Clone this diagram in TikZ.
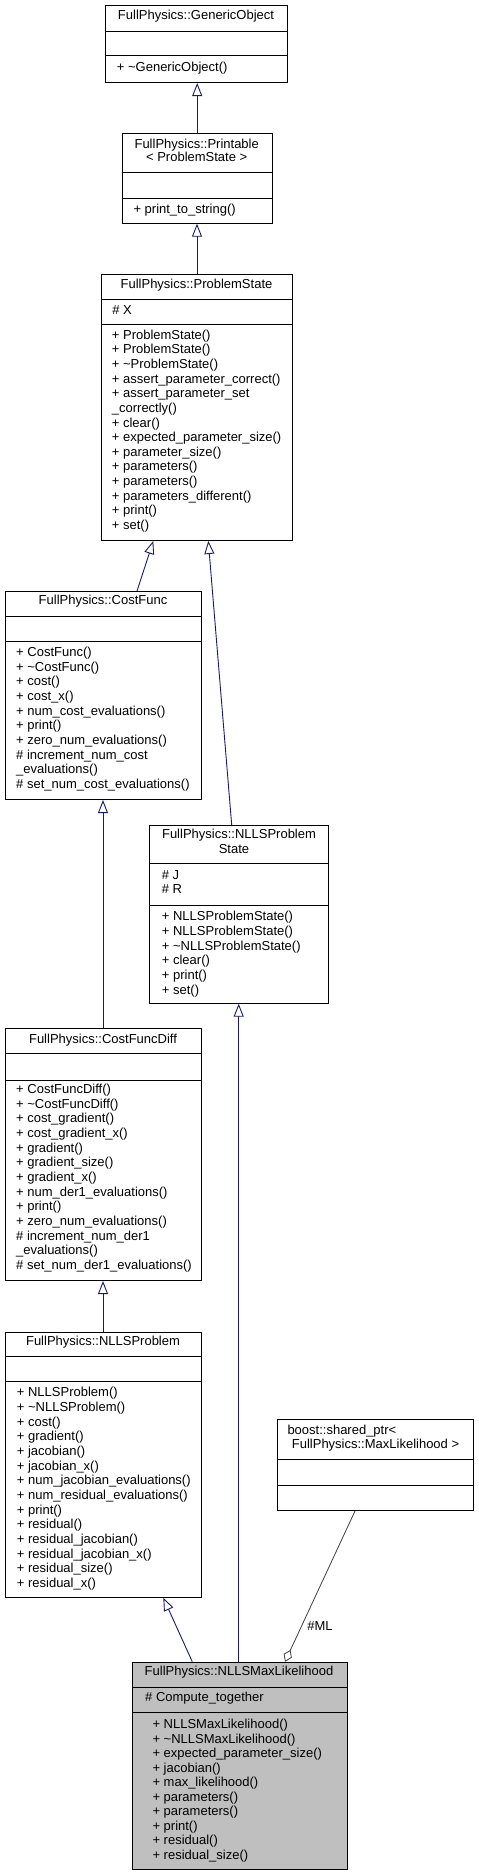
\documentclass[tikz,border=0pt]{standalone}
\usepackage{fontspec}
\setmainfont{Liberation Sans}
\usetikzlibrary{arrows.meta,calc}
\definecolor{edgeblue}{HTML}{191970}
\definecolor{agggray}{HTML}{404040}
\definecolor{boxgray}{HTML}{BFBFBF}
\tikzset{
  umlbox/.style={draw=black, line width=1pt, fill=white, inner sep=0pt, anchor=north west},
  sep/.style={draw=black, line width=1pt},
  member/.style={anchor=mid west, inner sep=0pt, font=\fontsize{13}{14.6}\selectfont},
  title/.style={anchor=mid, inner sep=0pt, font=\fontsize{13}{14.6}\selectfont},
  inh/.style={draw=edgeblue, line width=0.9pt, -{Triangle[open, length=13pt, width=10pt]}},
  agg/.style={draw=agggray, line width=0.8pt, -{Diamond[open, length=13pt, width=9pt]}},
  lbl/.style={anchor=mid, inner sep=0pt, font=\fontsize{13}{14.6}\selectfont}
}
\newcommand\umlmembers[5]{%
  \foreach \t [count=\i] in {#5} {\node[member] (#1-\i) at ({#2},{#3+(\i-1)*#4}) {\t};}}
\newcommand\umlseps[3]{% node, offset1, offset2
  \draw[sep] ($(#1.north west)+(0,#2)$) -- ($(#1.north east)+(0,#2)$);
  \draw[sep] ($(#1.north west)+(0,#3)$) -- ($(#1.north east)+(0,#3)$);}
\begin{document}
\begin{tikzpicture}[x=1pt,y=-1pt]
\useasboundingbox (0,0) rectangle (479,1876);
\fill[white] (0,0) rectangle (479,1876);

% GenericObject
\node[umlbox, minimum width=182pt, minimum height=77pt] (go) at (105,5) {};
\umlseps{go}{27}{51}
\node[title] (go-t) at (196,17.3) {FullPhysics::GenericObject};
\node[member] (go-m) at (116.7,69.3) {+ \textasciitilde GenericObject()};

% Printable
\node[umlbox, minimum width=150pt, minimum height=90pt] (pr) at (121.7,132.7) {};
\umlseps{pr}{40}{65.6}
\node[title] (pr-t1) at (196.7,145.7) {FullPhysics::Printable};
\node[title] (pr-t2) at (196.7,159) {< ProblemState >};
\node[member] (pr-m) at (133.3,210.7) {+ print\_to\_string()};

% ProblemState
\node[umlbox, minimum width=191pt, minimum height=266pt] (ps) at (101,274) {};
\umlseps{ps}{25.3}{50.3}
\node[title] (ps-t) at (196.5,285.7) {FullPhysics::ProblemState};
\node[member] (ps-a) at (112.2,311.7) {\# X};
\umlmembers{ps}{111.7}{336.7}{14.62}{+ ProblemState(),+ ProblemState(),+ \textasciitilde ProblemState(),+ assert\_parameter\_correct(),+ assert\_parameter\_set,\_correctly(),+ clear(),+ expected\_parameter\_size(),+ parameter\_size(),+ parameters(),+ parameters(),+ parameters\_different(),+ print(),+ set()}

% CostFunc
\node[umlbox, minimum width=195.5pt, minimum height=208pt] (cf) at (5,591) {};
\umlseps{cf}{25}{50.7}
\node[title] (cf-t) at (103,602.3) {FullPhysics::CostFunc};
\umlmembers{cf}{16}{654}{14.63}{+ CostFunc(),+ \textasciitilde CostFunc(),+ cost(),+ cost\_x(),+ num\_cost\_evaluations(),+ print(),+ zero\_num\_evaluations(),\# increment\_num\_cost,\_evaluations(),\# set\_num\_cost\_evaluations()}

% NLLSProblemState
\node[umlbox, minimum width=179pt, minimum height=177.7pt] (nps) at (149.3,825) {};
\umlseps{nps}{38.3}{80}
\node[title] (nps-t1) at (239,836) {FullPhysics::NLLSProblem};
\node[title] (nps-t2) at (234,851) {State};
\node[member] (nps-a1) at (161.7,876.7) {\# J};
\node[member] (nps-a2) at (161.7,891) {\# R};
\umlmembers{nps}{161.7}{918.3}{14.67}{+ NLLSProblemState(),+ NLLSProblemState(),+ \textasciitilde NLLSProblemState(),+ clear(),+ print(),+ set()}

% CostFuncDiff
\node[umlbox, minimum width=196pt, minimum height=251.7pt] (cfd) at (5,1028.3) {};
\umlseps{cfd}{25}{51.7}
\node[title] (cfd-t) at (103,1041) {FullPhysics::CostFuncDiff};
\umlmembers{cfd}{16}{1090.7}{14.67}{+ CostFuncDiff(),+ \textasciitilde CostFuncDiff(),+ cost\_gradient(),+ cost\_gradient\_x(),+ gradient(),+ gradient\_size(),+ gradient\_x(),+ num\_der1\_evaluations(),+ print(),+ zero\_num\_evaluations(),\# increment\_num\_der1,\_evaluations(),\# set\_num\_der1\_evaluations()}

% NLLSProblem
\node[umlbox, minimum width=196pt, minimum height=265pt] (np) at (5,1331.7) {};
\umlseps{np}{25}{50}
\node[title] (np-t) at (103,1343.3) {FullPhysics::NLLSProblem};
\umlmembers{np}{16.7}{1394}{14.69}{+ NLLSProblem(),+ \textasciitilde NLLSProblem(),+ cost(),+ gradient(),+ jacobian(),+ jacobian\_x(),+ num\_jacobian\_evaluations(),+ num\_residual\_evaluations(),+ print(),+ residual(),+ residual\_jacobian(),+ residual\_jacobian\_x(),+ residual\_size(),+ residual\_x()}

% boost::shared_ptr
\node[umlbox, minimum width=196.6pt, minimum height=90.7pt] (bst) at (276.7,1419.3) {};
\umlseps{bst}{40}{65.7}
\node[member] (bst-t1) at (287.3,1431.7) {boost::shared\_ptr<};
\node[member] (bst-t2) at (291.7,1446) {FullPhysics::MaxLikelihood >};

% NLLSMaxLikelihood
\node[umlbox, fill=boxgray, minimum width=215pt, minimum height=207.6pt] (nml) at (131.7,1661.7) {};
\umlseps{nml}{25.6}{51}
\node[title] (nml-t) at (239,1672.7) {FullPhysics::NLLSMaxLikelihood};
\node[member] (nml-a) at (145,1699) {\# Compute\_together};
\umlmembers{nml}{152.3}{1726}{14.52}{+ NLLSMaxLikelihood(),+ \textasciitilde NLLSMaxLikelihood(),+ expected\_parameter\_size(),+ jacobian(),+ max\_likelihood(),+ parameters(),+ parameters(),+ print(),+ residual(),+ residual\_size()}

% connectors
\draw[inh] (pr.north) -- (pr.north |- go.south);
\draw[inh] (ps.north) -- (ps.north |- pr.south);
\draw[inh] ($(cf.north west)+(132,0)$) -- ($(ps.south west)+(52.3,0)$);
\draw[inh] ($(nps.north west)+(82.4,0)$) -- ($(ps.south west)+(107.3,0)$);
\draw[inh] ($(cfd.north west)+(98,0)$) -- ($(cf.south west)+(98,0)$);
\draw[inh] ($(np.north west)+(98,0)$) -- ($(cfd.south west)+(98,0)$);
\draw[inh] ($(nml.north west)+(60.6,0)$) -- ($(np.south west)+(158.3,0)$);
\draw[inh] ($(nml.north west)+(107,0)$) -- ($(nps.south west)+(89.4,0)$);
\draw[agg] ($(bst.south west)+(78.3,0)$) -- ($(nml.north west)+(153.3,0)$);
\node[lbl] (ml) at (320,1628.3) {\#ML};
\end{tikzpicture}
\end{document}
